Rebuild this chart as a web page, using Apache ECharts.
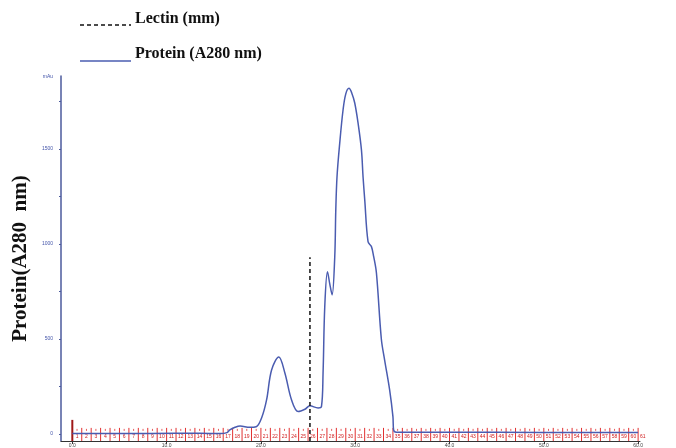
<!DOCTYPE html>
<html>
<head>
<meta charset="utf-8">
<script src="https://cdn.jsdelivr.net/npm/echarts@6/dist/echarts.min.js"></script>
<style>html,body{margin:0;padding:0;background:#fff}#c{width:676px;height:448px}</style>
</head>
<body>
<div id="c"></div>
<script>
// Elution volume (ml) and absorbance (mAu) of protein trace
var volume = [0, 3, 8.3, 13.5, 15.7, 16.4, 16.7, 17.25, 17.8, 18.8, 19.5, 20.07, 20.6, 21.13, 21.9, 22.54, 23.25, 23.95, 24.66, 25.19, 26.06, 26.42, 26.59, 26.77, 27.06, 27.3, 27.55, 27.83, 27.94, 28.07, 28.36, 28.71, 29.0, 29.34, 29.63, 29.95, 30.3, 30.66, 30.83, 31.01, 31.36, 31.72, 31.96, 32.25, 32.77, 33.12, 33.65, 34.0, 34.07, 34.36, 40, 50, 60];
var protein = [3, 3, 3, 4, 2, 7, 21, 35, 42, 35, 38, 84, 179, 337, 405, 321, 179, 118, 130, 148, 137, 144, 321, 670, 854, 790, 732, 933, 1179, 1354, 1532, 1705, 1790, 1819, 1795, 1742, 1637, 1495, 1354, 1232, 1012, 986, 933, 847, 500, 389, 232, 91, 21, 9, 9, 8, 8];
// Lectin marker
var lectinVolume = [25.2, 25.2];
var lectinValue = [-37, 930];
// Fraction numbers
var fractions = [];
for (var i = 1; i <= 61; i++) fractions.push(i);
// Tick labels
var xTicks = [0, 10, 20, 30, 40, 50, 60];
var xTickLabels = ['0.0', '10.0', '20.0', '30.0', '40.0', '50.0', '60.0'];
var yLabelValues = [0, 500, 1000, 1500, 1880];
var yTickValues = [0, 250, 500, 750, 1000, 1250, 1500, 1750];
var legendNames = ['Lectin (mm)', 'Protein (A280 nm)'];

var chart = echarts.init(document.getElementById('c'));
var proteinData = volume.map(function (v, i) { return [v, protein[i]]; });
var lectinData = lectinVolume.map(function (v, i) { return [v, lectinValue[i]]; });
var legendFont = { fontFamily: 'Liberation Serif', fontWeight: 'bold', fontSize: 16, fill: '#111' };

chart.setOption({
  backgroundColor: '#fff',
  animation: false,
  graphic: [
    { type: 'line', shape: { x1: 80, y1: 25, x2: 131, y2: 25 }, style: { stroke: '#111', lineWidth: 1.5, lineDash: [4, 3] } },
    { type: 'text', x: 135, y: 19, style: Object.assign({ text: legendNames[0], verticalAlign: 'middle' }, legendFont) },
    { type: 'line', shape: { x1: 80, y1: 61, x2: 131, y2: 61 }, style: { stroke: '#4a5cb0', lineWidth: 1.5 } },
    { type: 'text', x: 135, y: 54, style: Object.assign({ text: legendNames[1], verticalAlign: 'middle' }, legendFont) }
  ],
  grid: { left: 61, right: 36, top: 76, bottom: 7 },
  xAxis: {
    type: 'value', min: -1.2, max: 60.2,
    splitLine: { show: false },
    axisLine: { onZero: false, lineStyle: { color: '#333', width: 1 } },
    axisTick: { customValues: xTicks, length: 3, lineStyle: { color: '#333' } },
    axisLabel: {
      customValues: xTicks, fontSize: 5, color: '#444', margin: 2,
      formatter: function (v) { return xTickLabels[xTicks.indexOf(v)] || ''; }
    }
  },
  yAxis: {
    type: 'value', min: -37, max: 1884,
    name: 'Protein(A280  nm)', nameLocation: 'middle', nameGap: 25, nameRotate: 90,
    nameTextStyle: { fontFamily: 'Liberation Serif', fontWeight: 'bold', fontSize: 21, color: '#111' },
    splitLine: { show: false },
    axisLine: { show: true, onZero: false, lineStyle: { color: '#4b5a9c', width: 1.5 } },
    axisTick: { customValues: yTickValues, length: 2, lineStyle: { color: '#4b5a9c' } },
    axisLabel: {
      customValues: yLabelValues, fontSize: 5, color: '#4455aa', margin: 8,
      formatter: function (v) { return v >= 1800 ? 'mAu' : String(v); }
    }
  },
  series: [
    {
      name: 'Fractions', type: 'custom', silent: true, clip: false, z: 1,
      data: fractions,
      renderItem: function (params, api) {
        var f = api.value(0);
        var bot = api.coord([f - 1, -37]);
        var top = api.coord([f - 1, 32]);
        var mid = api.coord([f - 0.5, -16]);
        var children = [];
        children.push({ type: 'line', shape: { x1: bot[0], y1: bot[1], x2: top[0], y2: f === 1 ? top[1] - 8 : top[1] },
          style: { stroke: f === 1 ? '#a01818' : '#e23030', lineWidth: f === 1 ? 2 : 1 } });
        if (f <= 60) {
          var t = api.coord([f - 0.5, 32]);
          children.push({ type: 'line', shape: { x1: t[0], y1: t[1] + 1, x2: t[0], y2: t[1] + 3 },
            style: { stroke: '#e23030', lineWidth: 0.8 } });
        }
        children.push({ type: 'text', style: { x: mid[0], y: mid[1], text: String(f), fontSize: 5, fill: '#d02020', align: 'center', verticalAlign: 'middle' } });
        return { type: 'group', children: children };
      }
    },
    {
      name: legendNames[1], type: 'line', data: proteinData, smooth: 0.35, symbol: 'none', z: 3,
      lineStyle: { color: '#4a5cb0', width: 1.5 }, itemStyle: { color: '#4a5cb0' }
    },
    {
      name: legendNames[0], type: 'line', data: lectinData, symbol: 'none', z: 4,
      lineStyle: { color: '#111', width: 1.5, type: [4, 3] }, itemStyle: { color: '#111' }
    }
  ]
});
</script>
</body>
</html>
